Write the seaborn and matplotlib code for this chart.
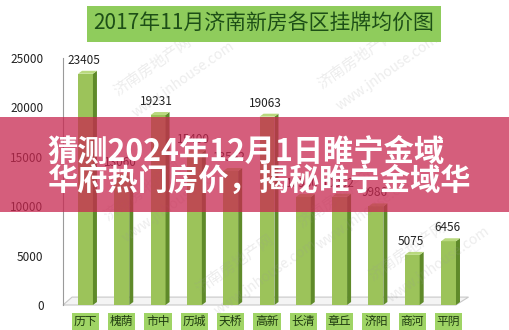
import matplotlib
matplotlib.use("Agg")
import matplotlib.pyplot as plt
from matplotlib.patches import Polygon, Rectangle
import seaborn as sns
import pandas as pd

# 2017年11月 济南各区新房挂牌均价（元/㎡）
districts = ["历下", "槐荫", "市中", "历城", "天桥", "高新", "长清", "章丘", "济阳", "商河", "平阴"]
prices = [23405, 13060, 19231, 15400, 13562, 19063, 10930, 10962, 9986, 5075, 6456]
y_ticks = [0, 5000, 10000, 15000, 20000, 25000]

title_text = "2017年11月济南新房各区挂牌均价图"
banner_lines = ["猜测2024年12月1日睢宁金域", "华府热门房价，揭秘睢宁金域华"]
watermark_cn = "济南房地产网"
watermark_en = "www.jnhouse.com"

sns.set_theme(style="white")
plt.rcParams["font.family"] = ["Noto Sans CJK SC", "DejaVu Sans"]

FRONT = "#9cc35a"
SIDE = "#5f8a2a"
TOP = "#b9d97e"

df = pd.DataFrame({"区": districts, "均价": prices})

fig = plt.figure(figsize=(5.1, 3.3), dpi=100)
ax = fig.add_axes([63 / 510, 25 / 330, (466.7 - 63) / 510, 247 / 330])

sns.barplot(data=df, x="区", y="均价", color=FRONT, width=0.41,
            saturation=1, ax=ax, edgecolor="none", zorder=3)

ax.set_xlim(-0.62, 10.5)
ax.set_ylim(0, 25000)

# depth of the pseudo-3D faces
dx, dy = 0.11, 300
for bar, v in zip(ax.patches, prices):
    x0 = bar.get_x()
    w = bar.get_width()
    h = bar.get_height()
    side = Polygon([(x0 + w, 0), (x0 + w + dx, dy), (x0 + w + dx, h + dy), (x0 + w, h)],
                   closed=True, facecolor=SIDE, edgecolor="none", zorder=3)
    top = Polygon([(x0, h), (x0 + dx, h + dy), (x0 + w + dx, h + dy), (x0 + w, h)],
                  closed=True, facecolor=TOP, edgecolor="none", zorder=3)
    ax.add_patch(side)
    ax.add_patch(top)
    ax.annotate(f"{v}", (x0 + w / 2, h + dy), xytext=(-1, 3), textcoords="offset points",
                ha="center", va="bottom", fontsize=8.5, color="#222222", zorder=4)

# floor of the chart
xl, xr = -0.62, 10.2
ax.add_patch(Polygon([(xl, 0), (xr, 0), (xr + 0.35, 800), (xl + 0.25, 800)], closed=True,
                     facecolor="#f4f4f4", edgecolor="#c8c8c8", lw=0.8, zorder=1, clip_on=False))

ax.set_xlabel("")
ax.set_ylabel("")
ax.set_yticks(y_ticks)
ax.set_yticklabels([str(t) for t in y_ticks], fontsize=8.5, color="#222222")
ax.tick_params(axis="y", length=0, pad=14)
ax.tick_params(axis="x", length=0, pad=7)
for lbl in ax.get_xticklabels():
    lbl.set_fontsize(8.5)
    lbl.set_color("#1f3a10")
    lbl.set_bbox(dict(facecolor="#9fd465", edgecolor="none", pad=1.4))

for s in ["top", "right", "bottom"]:
    ax.spines[s].set_visible(False)
ax.spines["left"].set_color("#9a9a9a")
ax.spines["left"].set_linewidth(0.8)

# faint site watermarks
for (wx, wy) in [(0.30, 0.80), (0.70, 0.82), (0.28, 0.42), (0.66, 0.40), (0.46, 0.20), (0.80, 0.24)]:
    fig.text(wx, wy, watermark_cn, rotation=35, fontsize=11, color="#999999", alpha=0.18,
             ha="center", va="center")
    fig.text(wx + 0.06, wy - 0.04, watermark_en, rotation=35, fontsize=10, color="#999999",
             alpha=0.18, ha="center", va="center")

# chart title in a green box
fig.text(264 / 510, 1 - 24 / 330, title_text, ha="center", va="center", fontsize=15,
         color="#1d4f17", bbox=dict(facecolor="#8fcc5c", edgecolor="none", pad=5))

# headline banner
fig.patches.append(Rectangle((0, 1 - 212 / 330), 1, 95 / 330, transform=fig.transFigure,
                             facecolor=(200 / 255, 40 / 255, 80 / 255, 0.75),
                             edgecolor="none", zorder=10))
fig.text(47 / 510, 1 - 152 / 330, banner_lines[0], ha="left", va="center", fontsize=21.8,
         fontweight="bold", color="white", zorder=11)
fig.text(47 / 510, 1 - 181 / 330, banner_lines[1], ha="left", va="center", fontsize=21.8,
         fontweight="bold", color="white", zorder=11)

fig.savefig("out.png", dpi=100, facecolor="white")
